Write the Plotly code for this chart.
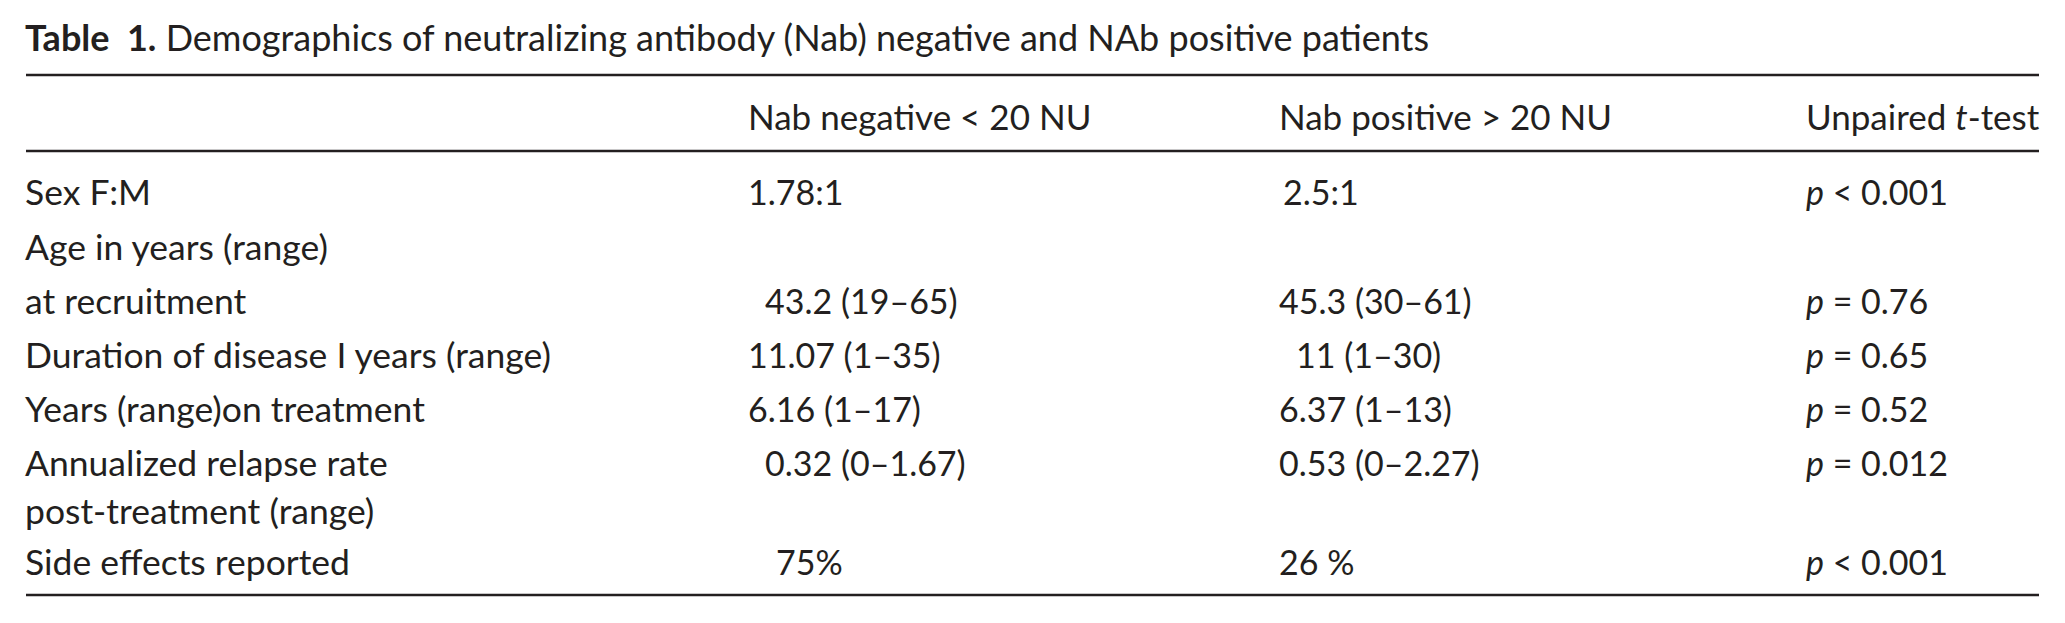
import plotly.graph_objects as go

# table content
title_bold = "Table  1."
title_rest = "Demographics of neutralizing antibody (Nab) negative and NAb positive patients"
headers = ["", "Nab negative < 20 NU", "Nab positive > 20 NU", "Unpaired <i>t</i>-test"]
row_labels = ["Sex F:M", "Age in years (range)", "at recruitment",
              "Duration of disease I years (range)", "Years (range)on treatment",
              "Annualized relapse rate", "post-treatment (range)", "Side effects reported"]
nab_neg = ["1.78:1", "", "43.2 (19–65)", "11.07 (1–35)", "6.16 (1–17)",
           "0.32 (0–1.67)", "", "75%"]
nab_pos = ["2.5:1", "", "45.3 (30–61)", "11 (1–30)", "6.37 (1–13)",
           "0.53 (0–2.27)", "", "26 %"]
p_values = ["<i>p</i> < 0.001", "", "<i>p</i> = 0.76", "<i>p</i> = 0.65", "<i>p</i> = 0.52",
            "<i>p</i> = 0.012", "", "<i>p</i> < 0.001"]

W, H = 2065, 623
FONT = "Lato"
SIZE = 34
INK = "#231f20"

col_x = [24, 747, 1278, 1805]
neg_indent = [0, 0, 17, 0, 0, 17, 0, 28]
pos_indent = [4, 0, 0, 17, 0, 0, 0, 0]
row_y = [191, 246, 300, 354, 408, 462, 510, 561]
header_y = 116

fig = go.Figure()
fig.add_trace(go.Scatter(x=[0, W], y=[0, H], mode="markers",
                         marker=dict(opacity=0), hoverinfo="skip", showlegend=False))

def cell(x, y, text, size=SIZE):
    fig.add_annotation(x=x, y=y, xref="x", yref="y", text=text, showarrow=False,
                       xanchor="left", yanchor="middle", borderpad=0,
                       font=dict(family=FONT, size=size, color=INK))

cell(24, 37, "<b>" + title_bold + "</b> " + title_rest, size=36)

for j, h in enumerate(headers):
    if h:
        cell(col_x[j], header_y, h, size=35)

for i, lab in enumerate(row_labels):
    cell(col_x[0], row_y[i], lab, size=35.5)
    if nab_neg[i]:
        cell(col_x[1] + neg_indent[i], row_y[i], nab_neg[i])
    if nab_pos[i]:
        cell(col_x[2] + pos_indent[i], row_y[i], nab_pos[i])
    if p_values[i]:
        cell(col_x[3], row_y[i], p_values[i])

for yy in [75, 151, 595]:
    fig.add_shape(type="line", x0=26, x1=2039, y0=yy, y1=yy, xref="x", yref="y",
                  line=dict(color=INK, width=2.5))

fig.update_xaxes(range=[0, W], visible=False, fixedrange=True)
fig.update_yaxes(range=[H, 0], visible=False, fixedrange=True)
fig.update_layout(width=W, height=H, margin=dict(l=0, r=0, t=0, b=0),
                  plot_bgcolor="white", paper_bgcolor="white")

fig.write_html("out.html", config={"displayModeBar": False},
               post_script="document.body.style.margin='0';")
